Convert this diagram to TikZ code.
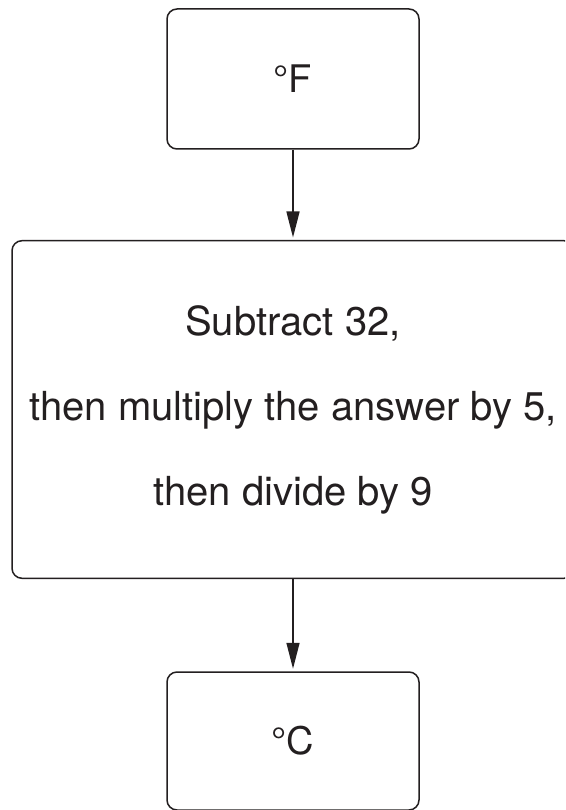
\documentclass[tikz,border=0pt]{standalone}
\usepackage{fontspec}
\setmainfont{TeX Gyre Heros}
\usetikzlibrary{arrows.meta}
\definecolor{ink}{HTML}{231F20}
\tikzset{
  box/.style={draw=ink, line width=1.5pt, rounded corners=10pt, inner sep=0pt, align=center, text=ink},
  flow/.style={draw=ink, line width=1.5pt, -{Triangle[length=26pt,width=13pt]}, shorten >=2.5pt}
}
\begin{document}
\begin{tikzpicture}[x=1pt,y=-1pt]
\useasboundingbox (0,0) rectangle (565,810);
\clip (0,0) rectangle (565,810);
\fill[white] (0,0) rectangle (565,810);
\node[box, minimum width=252pt, minimum height=140pt, font=\fontsize{38}{44}\selectfont] (f) at (293,79) {°F};
\node[box, minimum width=562pt, minimum height=337.6pt, font=\fontsize{40}{85}\selectfont] (calc) at (293,409.5)
  {Subtract 32,\\then multiply the answer by 5,\\then divide by 9};
\node[box, minimum width=252pt, minimum height=138pt, font=\fontsize{38}{44}\selectfont] (c) at (293,741) {°C};
\draw[flow] (f) -- (calc);
\draw[flow] (calc) -- (c);
\end{tikzpicture}
\end{document}
